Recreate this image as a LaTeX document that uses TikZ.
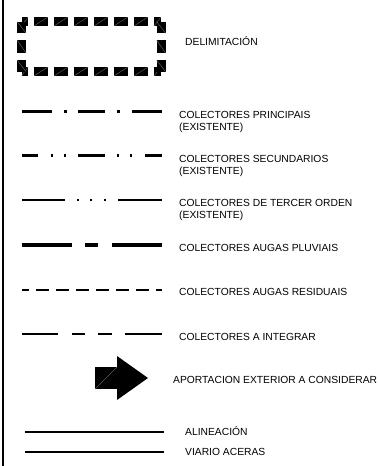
\documentclass[tikz,border=0pt]{standalone}
\usepackage{fontspec}
\setmainfont{Liberation Sans}
\usetikzlibrary{positioning}
\tikzset{
	delimh/.style={fill=black,path picture={\draw[black!55,line width=0.35pt] (path picture bounding box.south west) -- (path picture bounding box.north east);}},
	delimv/.style={fill=black,path picture={\draw[black!55,line width=0.35pt] (path picture bounding box.north west) -- (path picture bounding box.south east);}},
	lbl/.style={anchor=base west,inner sep=0pt,align=left,font=\fontsize{10.3pt}{11.7pt}\selectfont}
}

\begin{document}
\begin{tikzpicture}[x=1pt,y=-1pt]
	\useasboundingbox (0,0) rectangle (378,466);
	\draw[line width=2pt] (3,0) -- (3,466);
	% delimitacion
	\foreach \x in {34,54,...,134} {
		\path[delimh] (\x,17) rectangle +(14,9);
		\path[delimh] (\x,67) rectangle +(14,9);
	}
	\foreach \a/\b in {21.5/28,154/161} {
		\path[delimh] (\a,17) rectangle (\b,26);
		\path[delimh] (\a,67) rectangle (\b,76);
	}
	\foreach \a/\b in {21.5/33,40/53,60/71.5} {
		\path[delimv] (17,\a) rectangle (26,\b);
		\path[delimv] (156.5,\a) rectangle (165.5,\b);
	}
	\node[lbl] (delim) at (185,45.5) {DELIMITACIÓN};
	% colectores (base = ultima linea)
	\draw[line width=3pt,dash pattern=on 30pt off 11.5pt on 3pt off 11.5pt on 27pt off 11.5pt on 3pt off 12.5pt on 30pt] (22,111) -- (162,111);
	\node[lbl] (princ) at (179,130) {COLECTORES PRINCIPAIS\\(EXISTENTE)};
	\draw[line width=2.5pt,dash pattern=on 16pt off 12.75pt on 2.5pt off 10.5pt on 2.5pt off 11.75pt on 27pt off 11.75pt on 2.5pt off 10.5pt on 2.5pt off 12.75pt on 17pt] (22,155.5) -- (162,155.5);
	\node[lbl] (secund) at (179,174) {COLECTORES SECUNDARIOS\\(EXISTENTE)};
	\draw[line width=1.8pt,dash pattern=on 43pt off 12.25pt on 1.5pt off 11.5pt on 1.5pt off 12.5pt on 1.5pt off 12.25pt on 44pt] (22,200) -- (162,200);
	\node[lbl] (tercer) at (179,218.3) {COLECTORES DE TERCER ORDEN\\(EXISTENTE)};
	\draw[line width=4pt,dash pattern=on 50pt off 13pt on 13pt off 14pt on 50pt] (22,245) -- (162,245);
	\node[lbl] (pluv) at (179,251) {COLECTORES AUGAS PLUVIAIS};
	\draw[line width=2pt,dash pattern=on 13pt off 7pt,dash phase=6.5pt] (22,289.5) -- (162,289.5);
	\node[lbl] (resid) at (179,295.7) {COLECTORES AUGAS RESIDUAIS};
	\draw[line width=2.5pt,dash pattern=on 36pt off 14pt on 13pt off 13pt on 14pt off 13pt on 37pt] (22,334) -- (162,334);
	\node[lbl] (integ) at (179,340) {COLECTORES A INTEGRAR};
	% aportacion
	\path[delimh] (95,367) rectangle (117,389);
	\fill (117,356) -- (148,378) -- (117,400) -- cycle;
	\node[lbl] (aport) at (173,383.3) {APORTACION EXTERIOR A CONSIDERAR};
	% alineacion
	\draw[line width=2pt] (25,432) -- (164,432);
	\node[lbl] (alin) at (185,435.5) {ALINEACIÓN};
	\draw[line width=2pt] (25,452) -- (164,452);
	\node[lbl] (viario) at (185,455) {VIARIO ACERAS};
\end{tikzpicture}
\end{document}
